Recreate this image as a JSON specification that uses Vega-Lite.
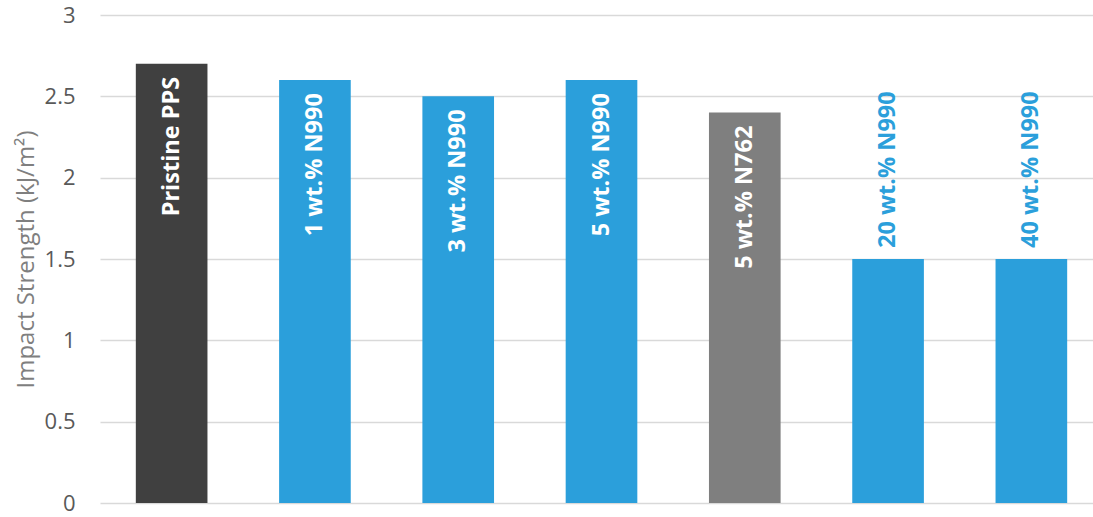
{
  "$schema": "https://vega.github.io/schema/vega-lite/v6.json",
  "autosize": "none",
  "width": 993,
  "height": 488,
  "padding": {"left": 100, "top": 15, "right": 0, "bottom": 14},
  "background": "white",
  "config": {"view": {"stroke": null}, "font": "Open Sans"},
  "data": {
    "values": [
      {"sample": "Pristine PPS", "group": "Pristine", "value": 2.7},
      {"sample": "1 wt.% N990", "group": "N990", "value": 2.6},
      {"sample": "3 wt.% N990", "group": "N990", "value": 2.5},
      {"sample": "5 wt.% N990", "group": "N990", "value": 2.6},
      {"sample": "5 wt.% N762", "group": "N762", "value": 2.4},
      {"sample": "20 wt.% N990", "group": "N990", "value": 1.5},
      {"sample": "40 wt.% N990", "group": "N990", "value": 1.5}
    ]
  },
  "encoding": {
    "x": {
      "field": "sample",
      "type": "nominal",
      "sort": null,
      "axis": null,
      "scale": {"range": [0, 1003], "paddingInner": 0.5, "paddingOuter": 0.25}
    },
    "y": {
      "field": "value",
      "type": "quantitative",
      "scale": {"domain": [0, 3], "nice": false},
      "axis": {
        "title": "Impact Strength (kJ/m²)",
        "titleFont": "Open Sans",
        "titleFontSize": 24,
        "titleFontWeight": "normal",
        "titleColor": "#7f7f7f",
        "titlePadding": 6,
        "values": [0, 0.5, 1, 1.5, 2, 2.5, 3],
        "format": "~g",
        "labelFont": "Open Sans",
        "labelFontSize": 22,
        "labelColor": "#595959",
        "labelPadding": 25,
        "domain": false,
        "ticks": false,
        "grid": true,
        "gridColor": "#d9d9d9",
        "gridWidth": 1.5
      }
    }
  },
  "layer": [
    {
      "mark": {"type": "bar"},
      "encoding": {
        "color": {
          "field": "group",
          "type": "nominal",
          "legend": null,
          "scale": {"domain": ["Pristine", "N990", "N762"], "range": ["#404040", "#2B9FDB", "#7f7f7f"]}
        }
      }
    },
    {
      "transform": [{"filter": "datum.value > 2"}],
      "mark": {"type": "text", "angle": 270, "align": "right", "baseline": "middle", "dx": -13, "font": "Open Sans", "fontSize": 23.5, "fontWeight": "bold", "color": "white"},
      "encoding": {"text": {"field": "sample"}}
    },
    {
      "transform": [{"filter": "datum.value <= 2"}],
      "mark": {"type": "text", "angle": 270, "align": "left", "baseline": "middle", "dx": 11, "font": "Open Sans", "fontSize": 23.5, "fontWeight": "bold", "color": "#2B9FDB"},
      "encoding": {"text": {"field": "sample"}}
    }
  ]
}
